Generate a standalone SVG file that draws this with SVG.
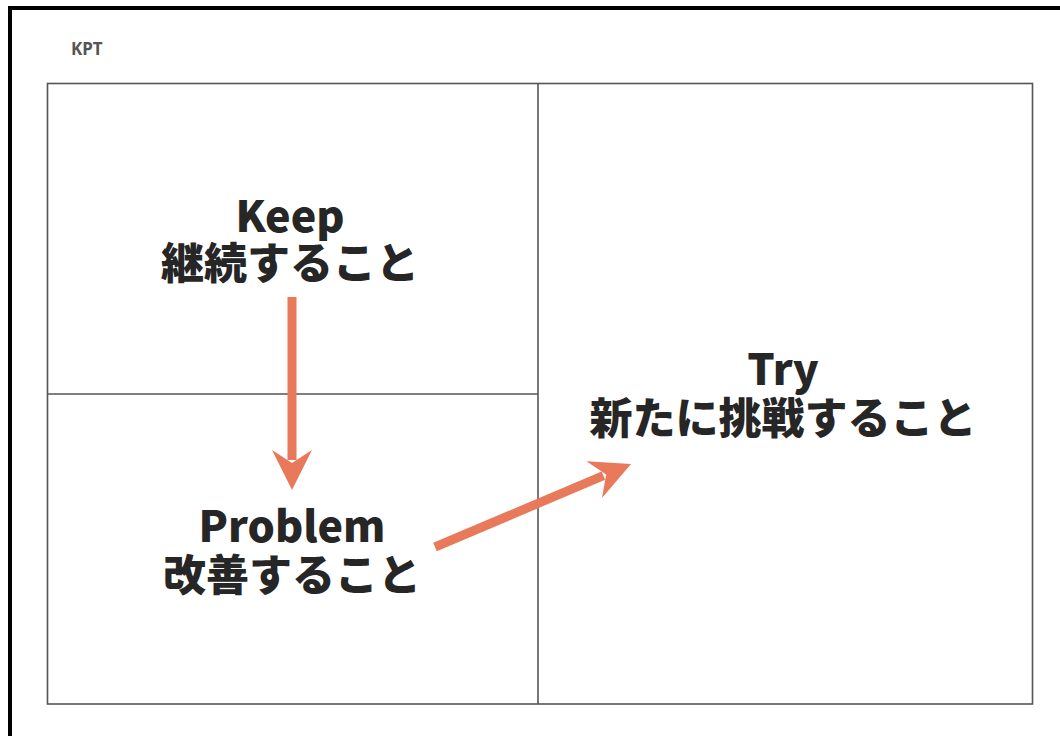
<svg xmlns="http://www.w3.org/2000/svg" width="1060" height="736" viewBox="0 0 1060 736">
<style>
.frame{fill:none;stroke:#000;stroke-width:4}
.grid{fill:none;stroke:#555;stroke-width:1.6}
.title{font-family:"Noto Sans","Noto Sans CJK JP",sans-serif;font-weight:bold;font-size:17px;fill:#555}
.lbl{font-family:"Noto Sans CJK JP","Noto Sans",sans-serif;font-weight:900;font-size:43px;fill:#262626;text-anchor:middle}
.conn{stroke:#E8795A;stroke-width:9;fill:none}
</style>
<defs>
<marker id="ah" markerUnits="userSpaceOnUse" viewBox="-42 -22 44 44" markerWidth="44" markerHeight="44" refX="-30" refY="0" orient="auto">
<path d="M0,0 L-40,-20 L-27,0 L-40,20 Z" fill="#E8795A"/>
</marker>
</defs>
<rect x="0" y="0" width="1060" height="736" fill="#fff"/>
<rect class="frame" x="10" y="8" width="1070" height="760"/>
<text class="title" x="71" y="55">KPT</text>
<g id="board">
<rect class="grid" x="47.5" y="83.5" width="985" height="620.5"/>
<line class="grid" x1="538" y1="83.5" x2="538" y2="704"/>
<line class="grid" x1="47.5" y1="394" x2="538" y2="394"/>
</g>
<g id="keep">
<text class="lbl" x="290" y="232">Keep</text>
<text class="lbl" x="290" y="279">継続すること</text>
</g>
<g id="problem">
<text class="lbl" x="292" y="542">Problem</text>
<text class="lbl" x="292" y="591">改善すること</text>
</g>
<g id="try">
<text class="lbl" x="783" y="385">Try</text>
<text class="lbl" x="783" y="434">新たに挑戦すること</text>
</g>
<g id="connectors">
<line class="conn" x1="292" y1="297" x2="292" y2="460" marker-end="url(#ah)"/>
<line class="conn" x1="435" y1="547" x2="603.4" y2="475.7" marker-end="url(#ah)"/>
</g>
</svg>
